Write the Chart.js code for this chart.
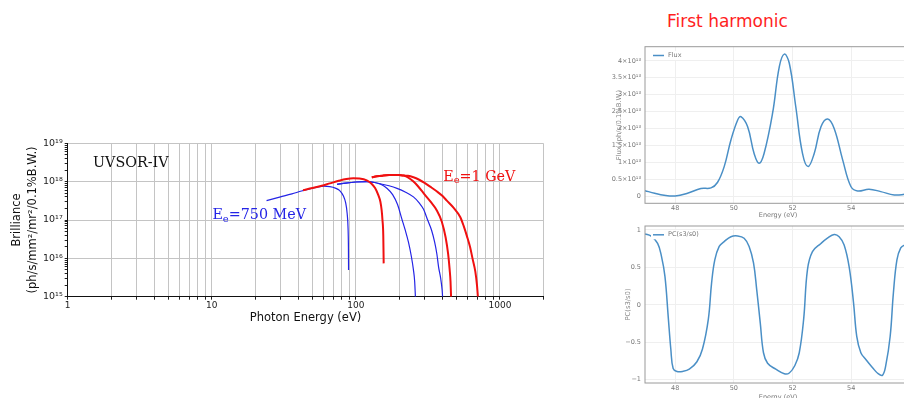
<html><head>
<meta charset="UTF-8">
<title>UVSOR-IV brilliance and first harmonic</title>
<style>
  html, body { margin: 0; padding: 0; overflow: hidden; background: #fff; }
  body { width: 904px; height: 398px; position: relative; }
  canvas { position: absolute; }
  #harmonic {
    position: absolute; left: 667px; top: 11px;
    font-family: 'Comic Sans MS', 'DejaVu Sans', sans-serif;
    font-size: 17px; color: #ff1e1e; white-space: nowrap;
  }
</style>
<script src="https://cdn.jsdelivr.net/npm/chart.js"></script>
</head>
<body>
<div id="harmonic">First harmonic</div>
<canvas id="brill" width="560" height="200" style="left:0;top:130px"></canvas>
<canvas id="flux" width="340" height="200" style="left:590px;top:30px"></canvas>
<canvas id="pc" width="340" height="190" style="left:590px;top:215px"></canvas>

<script>
// ---- left chart: brilliance vs photon energy (log-log) ----
const blueAEnergy = [24, 30, 36, 42, 48, 54, 60, 66, 72, 77, 82, 85, 87, 88.3, 88.8, 89];
const blueABrill  = [3.2e17, 4.0e17, 4.8e17, 5.7e17, 6.5e17, 7.2e17, 7.6e17, 7.4e17, 6.8e17, 5.9e17, 4.2e17, 2.8e17, 1.5e17, 6e16, 2e16, 5e15];

const blueBEnergy = [74, 85, 100, 119, 135, 150, 165, 180, 195, 208, 220, 232, 243, 251, 256, 259];
const blueBBrill  = [8.5e17, 9.2e17, 9.8e17, 1.0e18, 9.5e17, 8.4e17, 6.6e17, 4.6e17, 2.5e17, 1.1e17, 5.5e16, 2.6e16, 1.1e16, 5e15, 2.5e15, 1e15];

const blueCEnergy = [74, 85, 100, 119, 135, 150, 170, 193, 220, 251, 275, 295, 315, 335, 352, 365, 375, 388, 397, 400];
const blueCBrill  = [8.5e17, 9.2e17, 9.8e17, 1.0e18, 9.5e17, 8.7e17, 7.8e17, 6.7e17, 5.4e17, 4.0e17, 2.8e17, 1.9e17, 1.0e17, 5.5e16, 2.7e16, 1.3e16, 6e15, 3e15, 1.5e15, 1e15];

const redAEnergy = [43, 50, 58, 66, 76, 86, 96, 106, 119, 128, 136, 143, 148, 151, 153, 155, 156];
const redABrill  = [6e17, 6.8e17, 7.8e17, 9e17, 1.05e18, 1.17e18, 1.22e18, 1.2e18, 1.08e18, 9e17, 6.8e17, 4.5e17, 3e17, 1.8e17, 1e17, 4e16, 7.4e15];

const redBEnergy = [129, 140, 155, 170, 185, 200, 215, 230, 250, 270, 295, 330, 364, 395, 420, 437, 448, 454, 458];
const redBBrill  = [1.3e18, 1.38e18, 1.44e18, 1.48e18, 1.5e18, 1.48e18, 1.44e18, 1.3e18, 1.02e18, 7.6e17, 5e17, 3e17, 1.8e17, 9e16, 3.5e16, 1.3e16, 5e15, 2.5e15, 1e15];

const redCEnergy = [129, 140, 155, 170, 185, 200, 215, 230, 251, 275, 300, 328, 364, 400, 428, 476, 530, 560, 590, 620, 645, 675, 693, 703];
const redCBrill  = [1.3e18, 1.38e18, 1.44e18, 1.48e18, 1.5e18, 1.48e18, 1.44e18, 1.42e18, 1.3e18, 1.12e18, 9.3e17, 7.4e17, 5.6e17, 4.2e17, 3.2e17, 2.1e17, 1.2e17, 7e16, 3.8e16, 2e16, 1e16, 4.5e15, 2e15, 1e15];

const xMajor = [1, 10, 100, 1000];
const xTickLabels = ['1', '10', '100', '1000'];
const yMajor = [1e15, 1e16, 1e17, 1e18, 1e19];
const yTickLabels = ['10\u00b9\u2075', '10\u00b9\u2076', '10\u00b9\u2077', '10\u00b9\u2078', '10\u00b9\u2079'];

// ---- right charts: first harmonic ----
const fluxEnergy = [46.97, 47.3, 47.62, 48.0, 48.42, 48.875, 49.22, 49.44, 49.67, 49.9, 50.13, 50.24, 50.47, 50.69, 50.86, 51.03, 51.32, 51.55, 51.72, 51.89, 52.11, 52.34, 52.53, 52.74, 52.97, 53.2, 53.42, 53.71, 53.99, 54.22, 54.61, 55.01, 55.47, 55.81, 56.1];
const fluxValue  = [0.16, 0.08, 0.02, 0.0, 0.08, 0.22, 0.24, 0.40, 0.87, 1.66, 2.25, 2.35, 2.05, 1.26, 0.97, 1.26, 2.45, 3.83, 4.2, 3.93, 2.65, 1.26, 0.87, 1.26, 2.05, 2.28, 2.0, 1.07, 0.28, 0.15, 0.2, 0.13, 0.03, 0.05, 0.1];
const fluxTicks = [0, 0.5, 1, 1.5, 2, 2.5, 3, 3.5, 4];
const fluxTickLabels = ['0', '0.5\u00d710\u00b9\u00b3', '1\u00d710\u00b9\u00b3', '1.5\u00d710\u00b9\u00b3', '2\u00d710\u00b9\u00b3',
  '2.5\u00d710\u00b9\u00b3', '3\u00d710\u00b9\u00b3', '3.5\u00d710\u00b9\u00b3', '4\u00d710\u00b9\u00b3'];

const pcEnergy = [46.97, 47.17, 47.4, 47.53, 47.65, 47.76, 47.85, 47.93, 48.06, 48.25, 48.48, 48.74, 48.93, 49.13, 49.24, 49.35, 49.5, 49.67, 49.9, 50.13, 50.35, 50.52, 50.67, 50.78, 50.9, 51.01, 51.15, 51.43, 51.72, 51.89, 52.08, 52.23, 52.38, 52.51, 52.68, 52.97, 53.19, 53.42, 53.59, 53.76, 53.93, 54.08, 54.19, 54.33, 54.5, 54.73, 54.92, 55.07, 55.18, 55.33, 55.44, 55.56, 55.69, 55.83, 56.1];
const pcValue  = [0.947, 0.92, 0.82, 0.65, 0.38, -0.15, -0.59, -0.85, -0.89, -0.89, -0.86, -0.76, -0.59, -0.19, 0.29, 0.60, 0.78, 0.845, 0.91, 0.92, 0.89, 0.78, 0.56, 0.20, -0.24, -0.64, -0.78, -0.86, -0.92, -0.91, -0.81, -0.64, -0.19, 0.47, 0.71, 0.82, 0.89, 0.94, 0.91, 0.80, 0.51, 0.03, -0.42, -0.64, -0.73, -0.84, -0.92, -0.94, -0.81, -0.42, 0.16, 0.60, 0.76, 0.80, 0.83];
const pcTicks = [-1, -0.5, 0, 0.5, 1];
const pcTickLabels = ['\u22121', '\u22120.5', '0', '0.5', '1'];
const energyTicks = [48, 50, 52, 54, 56];

Chart.defaults.font.family = "'DejaVu Sans', sans-serif";
Chart.defaults.devicePixelRatio = 1;

const blue = '#2424e6';
const red = '#f01010';
const lineBlue = '#4a8fc6';

function pts(xs, ys) {
  return xs.map((x, i) => ({x: x, y: ys[i]}));
}

function isPow10(v) {
  const l = Math.log10(v);
  return Math.abs(l - Math.round(l)) < 1e-9;
}

function logTicks(lo, hi, top) {
  const out = [];
  for (let p = lo; p <= hi; p *= 10) {
    for (let m = 1; m < 10; m++) {
      const v = m * p;
      if (v > top * 1.0001) break;
      out.push({value: v});
    }
  }
  return out;
}

// text labels drawn in data coordinates
const notes = {
  id: 'notes',
  afterDatasetsDraw(chart) {
    const {ctx, scales: {x, y}} = chart;
    ctx.save();
    ctx.textBaseline = 'middle';
    ctx.textAlign = 'left';
    const big = '14.3px "DejaVu Serif"';
    const small = '10px "DejaVu Serif"';
    ctx.font = big;
    ctx.fillStyle = '#111';
    ctx.fillText('UVSOR-IV', x.getPixelForValue(1.5), y.getPixelForValue(3.1e18));

    function sub(tx, ty, rest, color) {
      ctx.fillStyle = color;
      ctx.font = big;
      ctx.fillText('E', tx, ty);
      let w = ctx.measureText('E').width;
      ctx.font = small;
      ctx.fillText('e', tx + w, ty + 4);
      w += ctx.measureText('e').width;
      ctx.font = big;
      ctx.fillText(rest, tx + w, ty);
    }
    sub(x.getPixelForValue(10.1), y.getPixelForValue(1.3e17), '=750 MeV', blue);
    sub(x.getPixelForValue(404), y.getPixelForValue(1.33e18), '=1 GeV', red);
    ctx.restore();
  }
};

new Chart(document.getElementById('brill'), {
  type: 'line',
  data: {
    datasets: [
      {data: pts(redAEnergy, redABrill), borderColor: red, borderWidth: 2},
      {data: pts(redBEnergy, redBBrill), borderColor: red, borderWidth: 2},
      {data: pts(redCEnergy, redCBrill), borderColor: red, borderWidth: 2},
      {data: pts(blueAEnergy, blueABrill), borderColor: blue, borderWidth: 1.2},
      {data: pts(blueBEnergy, blueBBrill), borderColor: blue, borderWidth: 1.2},
      {data: pts(blueCEnergy, blueCBrill), borderColor: blue, borderWidth: 1.2}
    ]
  },
  options: {
    responsive: false,
    animation: false,
    layout: {padding: {top: 13.3, right: 16.7, left: 0, bottom: 0}},
    elements: {
      point: {radius: 0},
      line: {cubicInterpolationMode: 'monotone', fill: false}
    },
    plugins: {legend: {display: false}, tooltip: {enabled: false}},
    scales: {
      x: {
        type: 'logarithmic', min: 1, max: 2000,
        afterBuildTicks: s => { s.ticks = logTicks(1, 1000, 2000); },
        afterFit: s => { s.height = 33.3; },
        grid: {color: '#c4c4c4', tickColor: '#222', tickLength: 3, drawTicks: true},
        border: {color: '#111', width: 1},
        ticks: {
          autoSkip: false, maxRotation: 0, padding: 1,
          color: '#222', font: {size: 9},
          callback: v => { const i = xMajor.indexOf(v); return i >= 0 ? xTickLabels[i] : ''; }
        },
        title: {
          display: true, text: 'Photon Energy (eV)', color: '#111',
          font: {size: 11.5}, padding: {top: 0, bottom: 5}
        }
      },
      y: {
        type: 'logarithmic', min: 1e15, max: 1e19,
        afterBuildTicks: s => { s.ticks = logTicks(1e15, 1e19, 1e19); },
        afterFit: s => { s.width = 67.7; },
        grid: {
          color: c => (c.tick && isPow10(c.tick.value)) ? '#c4c4c4' : 'rgba(0,0,0,0)',
          tickColor: '#222', tickLength: 3
        },
        border: {color: '#111', width: 1},
        ticks: {
          autoSkip: false, padding: 2, color: '#222', font: {size: 9.5},
          callback: v => { const i = yMajor.findIndex(m => Math.abs(m - v) / m < 1e-6); return i >= 0 ? yTickLabels[i] : ''; }
        },
        title: {
          display: true, text: ['Brilliance', '(ph/s/mm\u00b2/mr\u00b2/0.1%B.W.)'],
          color: '#111', font: {size: 11.5, lineHeight: 1.4}, padding: {top: 8.6, bottom: 0}
        }
      }
    }
  },
  plugins: [notes]
});

// grey frame and small legend for the two harmonic panels
const frame = {
  id: 'frame',
  afterDatasetsDraw(chart) {
    const {ctx, chartArea: a} = chart;
    const ds = chart.data.datasets[0];
    ctx.save();
    ctx.strokeStyle = '#9a9a9a';
    ctx.lineWidth = 1;
    ctx.strokeRect(a.left, a.top, a.right - a.left, a.bottom - a.top);
    const lx = a.left + 8, ly = a.top + 8.8;
    ctx.font = '6.5px "DejaVu Sans"';
    const tw = ctx.measureText(ds.label).width;
    ctx.fillStyle = '#fff';
    ctx.fillRect(lx - 2, ly - 4.5, 18 + tw, 9);
    ctx.strokeStyle = ds.borderColor;
    ctx.lineWidth = 1.5;
    ctx.beginPath();
    ctx.moveTo(lx, ly);
    ctx.lineTo(lx + 11, ly);
    ctx.stroke();
    ctx.fillStyle = '#777';
    ctx.textBaseline = 'middle';
    ctx.fillText(ds.label, lx + 15, ly);
    ctx.restore();
  }
};

function smallChart(id, xs, ys, label, yMin, yMax, yTicks, yLabels, yTitle, pad, xH, yTitlePad, xTitlePad) {
  return new Chart(document.getElementById(id), {
    type: 'line',
    data: {datasets: [{label: label, data: pts(xs, ys), borderColor: lineBlue, borderWidth: 1.5, tension: 0.4}]},
    options: {
      responsive: false,
      animation: false,
      layout: {padding: {top: pad, right: 19, left: 0, bottom: 0}},
      elements: {point: {radius: 0}},
      plugins: {legend: {display: false}, tooltip: {enabled: false}},
      scales: {
        x: {
          type: 'linear', min: 46.97, max: 56.04,
          afterBuildTicks: s => { s.ticks = energyTicks.map(v => ({value: v})); },
          afterFit: s => { s.height = xH; },
          grid: {color: '#efefef', drawTicks: false},
          border: {display: false},
          ticks: {padding: 1.5, color: '#777', font: {size: 6.5}, maxRotation: 0},
          title: {display: true, text: 'Energy (eV)', color: '#777', font: {size: 6.5}, padding: {top: 0, bottom: xTitlePad}}
        },
        y: {
          type: 'linear', min: yMin, max: yMax,
          afterBuildTicks: s => { s.ticks = yTicks.map(v => ({value: v})); },
          afterFit: s => { s.width = 55; },
          grid: {color: '#efefef', drawTicks: false},
          border: {display: false},
          ticks: {
            padding: 4, color: '#777', font: {size: 6.5},
            callback: v => { const i = yTicks.indexOf(v); return i >= 0 ? yLabels[i] : ''; }
          },
          title: {display: true, text: yTitle, color: '#888', font: {size: 6.8}, padding: {top: yTitlePad, bottom: 0}}
        }
      }
    },
    plugins: [frame]
  });
}

smallChart('flux', fluxEnergy, fluxValue, 'Flux', -0.216, 4.42, fluxTicks, fluxTickLabels,
  'Flux (ph/s/0.1%B.W.)', 16.7, 26.7, 24.8, 11);
smallChart('pc', pcEnergy, pcValue, 'PC(s3/s0)', -1.044, 1.053, pcTicks, pcTickLabels,
  'PC(s3/s0)', 11, 22, 33.8, 4);
</script>
</body></html>
